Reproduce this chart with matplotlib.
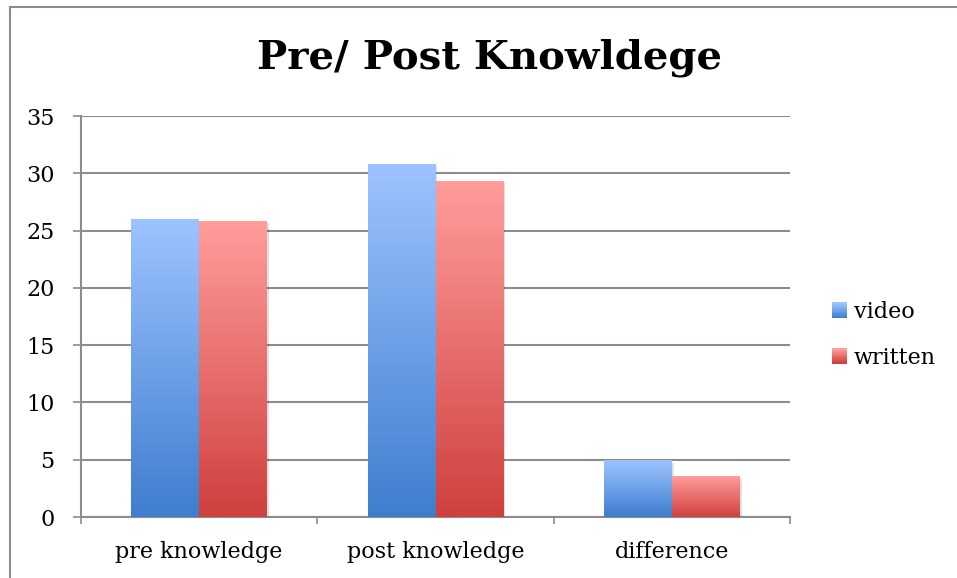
import numpy as np
import matplotlib
matplotlib.use('Agg')
import matplotlib.pyplot as plt
from matplotlib.colors import to_rgb
from matplotlib.lines import Line2D
from matplotlib.patches import Rectangle, Patch
from matplotlib.legend_handler import HandlerBase

# Datos
categorias = ['pre knowledge', 'post knowledge', 'difference']
video = [26.0, 30.8, 4.9]
written = [25.8, 29.3, 3.5]
yticks = [0, 5, 10, 15, 20, 25, 30, 35]

# Colores del degradado (arriba claro, abajo oscuro)
azul = ('#9DC3FF', '#3F7ECF')
rojo = ('#FF9D9B', '#CF403E')

plt.rcParams['font.family'] = ['DejaVu Serif']
GRIS = '#8c8c8c'


def degradado(c_top, c_bot, n=128):
    t = np.linspace(0, 1, n)[:, None]
    a, b = np.array(to_rgb(c_bot)), np.array(to_rgb(c_top))
    return (a * (1 - t) + b * t)[:, None, :]


class HandlerDegradado(HandlerBase):
    def create_artists(self, legend, orig_handle, xdescent, ydescent,
                       width, height, fontsize, trans):
        c_top, c_bot = orig_handle.colores
        arts = []
        n = 12
        for i in range(n):
            t = i / (n - 1)
            a, b = np.array(to_rgb(c_bot)), np.array(to_rgb(c_top))
            col = a * (1 - t) + b * t
            arts.append(Rectangle((-xdescent, -ydescent + height * i / n), width, height / n + 0.3,
                                  facecolor=col, edgecolor='none', transform=trans))
        return arts


fig = plt.figure(figsize=(9.57, 5.78), dpi=100)
ax = fig.add_axes([81 / 957, 61 / 578, 709 / 957, 401 / 578])

x = np.arange(len(categorias))
ancho = 0.2875
for serie, cols, desp in [(video, azul, -ancho / 2), (written, rojo, ancho / 2)]:
    img = degradado(*cols)
    for xi, v in zip(x, serie):
        x0, x1 = xi + desp - ancho / 2, xi + desp + ancho / 2
        # sombra suave
        ax.add_patch(Rectangle((x0 + 0.008, -0.15), ancho, v, facecolor='black',
                               alpha=0.12, edgecolor='none', zorder=2))
        ax.imshow(img, extent=[x0, x1, 0, v], origin='lower', aspect='auto',
                  interpolation='bilinear', zorder=3)

ax.set_xlim(-0.5, 2.5)
ax.set_ylim(0, 35)
ax.set_yticks(yticks)
ax.tick_params(axis='y', direction='out', length=6, width=1.2, color=GRIS,
               labelsize=16, pad=13)
ax.yaxis.grid(True, color=GRIS, linewidth=1.5)
ax.set_axisbelow(True)

ax.set_xticks([-0.5, 0.5, 1.5, 2.5])
ax.set_xticklabels([])
ax.tick_params(axis='x', which='major', direction='out', length=5, width=1.2, color=GRIS)
ax.set_xticks(x, minor=True)
ax.set_xticklabels(categorias, minor=True)
ax.tick_params(axis='x', which='minor', length=0, labelsize=16, pad=17)

for lado in ['top', 'right']:
    ax.spines[lado].set_visible(False)
for lado in ['left', 'bottom']:
    ax.spines[lado].set_color(GRIS)
    ax.spines[lado].set_linewidth(1.5)

fig.text(490 / 957, 1 - 58 / 578, 'Pre/ Post Knowldege', ha='center', va='center',
         fontsize=29, fontweight='bold')

h_video = Patch(label='video')
h_video.colores = azul
h_written = Patch(label='written')
h_written.colores = rojo
fig.legend(handles=[h_video, h_written], labels=['video', 'written'],
           handler_map={Patch: HandlerDegradado()},
           loc='center left', bbox_to_anchor=(832 / 957, 1 - 335 / 578),
           frameon=False, fontsize=16, borderpad=0, borderaxespad=0,
           handlelength=0.68, handleheight=0.68, handletextpad=0.3,
           labelspacing=1.05)

# marco exterior (solo izquierda y arriba visibles)
fig.add_artist(Line2D([10 / 957, 10 / 957], [0, 1 - 7 / 578], color=GRIS, lw=1.5,
                      transform=fig.transFigure))
fig.add_artist(Line2D([10 / 957, 1], [1 - 7 / 578, 1 - 7 / 578], color=GRIS, lw=1.5,
                      transform=fig.transFigure))

plt.savefig('out.png', dpi=100)
